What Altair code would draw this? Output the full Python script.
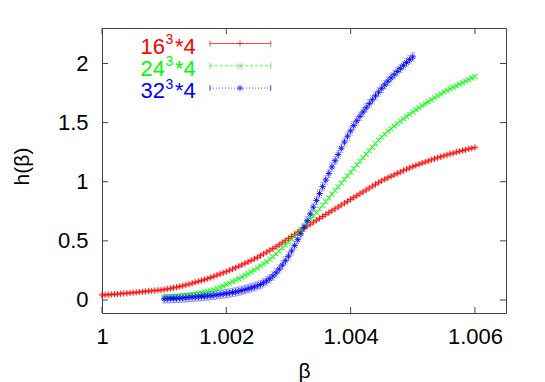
import altair as alt
import pandas as pd

# ---------------- data ----------------
series = ["16", "24", "32"]
series_colors = ["#ff0000", "#00ff00", "#0000ff"]
beta_step = 0.00005

red_beta0 = 1.0000
red_h = [0.042, 0.0435, 0.045, 0.047, 0.049, 0.051, 0.053, 0.055, 0.057, 0.0595,
         0.062, 0.0645, 0.067, 0.0695, 0.072, 0.0745, 0.077, 0.0795, 0.082, 0.085,
         0.088, 0.093, 0.098, 0.103, 0.108, 0.114, 0.120, 0.127, 0.134, 0.142,
         0.150, 0.157, 0.165, 0.172, 0.180, 0.190, 0.200, 0.210, 0.220, 0.230,
         0.240, 0.251, 0.262, 0.273, 0.285, 0.297, 0.310, 0.322, 0.335, 0.347,
         0.360, 0.375, 0.390, 0.405, 0.420, 0.435, 0.450, 0.467, 0.485, 0.502,
         0.520, 0.537, 0.555, 0.572, 0.590, 0.607, 0.625, 0.641, 0.658, 0.674,
         0.690, 0.706, 0.723, 0.739, 0.755, 0.771, 0.787, 0.803, 0.819, 0.834,
         0.850, 0.866, 0.882, 0.898, 0.914, 0.930, 0.946, 0.962, 0.978, 0.993,
         1.008, 1.021, 1.034, 1.046, 1.058, 1.070, 1.082, 1.094, 1.106, 1.117,
         1.128, 1.138, 1.148, 1.157, 1.167, 1.176, 1.185, 1.194, 1.203, 1.211,
         1.219, 1.227, 1.235, 1.242, 1.250, 1.257, 1.264, 1.270, 1.277, 1.283,
         1.290]

green_beta0 = 1.0010
green_h = [0.020, 0.022, 0.024, 0.0265, 0.029, 0.032, 0.035, 0.0385, 0.042, 0.046,
           0.050, 0.055, 0.060, 0.066, 0.072, 0.079, 0.086, 0.096, 0.107, 0.118,
           0.130, 0.142, 0.155, 0.167, 0.180, 0.194, 0.208, 0.223, 0.238, 0.254,
           0.270, 0.287, 0.305, 0.324, 0.344, 0.366, 0.390, 0.415, 0.440, 0.465,
           0.490, 0.515, 0.540, 0.567, 0.595, 0.622, 0.650, 0.680, 0.710, 0.740,
           0.770, 0.801, 0.832, 0.863, 0.895, 0.926, 0.957, 0.988, 1.019, 1.050,
           1.080, 1.111, 1.142, 1.172, 1.203, 1.233, 1.263, 1.292, 1.322, 1.350,
           1.378, 1.402, 1.426, 1.448, 1.470, 1.491, 1.512, 1.532, 1.552, 1.571,
           1.590, 1.608, 1.626, 1.643, 1.660, 1.677, 1.693, 1.710, 1.727, 1.742,
           1.758, 1.772, 1.786, 1.799, 1.812, 1.825, 1.838, 1.851, 1.864, 1.877,
           1.890]

blue_beta0 = 1.0010
blue_h = [0.010, 0.011, 0.012, 0.013, 0.014, 0.0155, 0.017, 0.019, 0.021, 0.023,
          0.025, 0.027, 0.029, 0.0315, 0.034, 0.037, 0.040, 0.0435, 0.047, 0.051,
          0.055, 0.059, 0.064, 0.069, 0.075, 0.081, 0.088, 0.095, 0.103, 0.111,
          0.120, 0.131, 0.145, 0.161, 0.180, 0.203, 0.230, 0.261, 0.295, 0.331,
          0.370, 0.414, 0.460, 0.510, 0.560, 0.615, 0.670, 0.727, 0.785, 0.842,
          0.900, 0.958, 1.015, 1.070, 1.125, 1.178, 1.230, 1.283, 1.335, 1.385,
          1.430, 1.475, 1.515, 1.553, 1.590, 1.625, 1.660, 1.693, 1.726, 1.758,
          1.790, 1.820, 1.850, 1.878, 1.905, 1.932, 1.958, 1.984, 2.008, 2.032,
          2.055]

h_err = {"16": 0.010, "24": 0.015, "32": 0.035}

x_ticks = [1.0, 1.002, 1.004, 1.006]
y_ticks = [0, 0.5, 1, 1.5, 2]
legend_base = ["16", "24", "32"]
legend_sup = ["3", "3", "3"]
legend_rest = ["*4", "*4", "*4"]

# ---------------- table ----------------
rows = []
for name, b0, hs in [("16", red_beta0, red_h), ("24", green_beta0, green_h),
                     ("32", blue_beta0, blue_h)]:
    for i, h in enumerate(hs):
        rows.append({"series": name, "beta": round(b0 + i * beta_step, 7), "h": h,
                     "lo": h - h_err[name], "hi": h + h_err[name]})
df = pd.DataFrame(rows)

W, H = 404, 285
FONT = "Liberation Sans"
TICK = 6

x_scale = alt.Scale(domain=[1.0, 1.0065], nice=False, zero=False)
y_scale = alt.Scale(domain=[-0.11, 2.3], nice=False, zero=False)
color_scale = alt.Scale(domain=series, range=series_colors)
shape_paths = ["M-1,0L1,0M0,-1L0,1",
               "M-0.8,-0.8L0.8,0.8M-0.8,0.8L0.8,-0.8",
               "M-1,0L1,0M0,-1L0,1M-0.7,-0.7L0.7,0.7M-0.7,0.7L0.7,-0.7"]
shape_scale = alt.Scale(domain=series, range=shape_paths)

x_axis = alt.Axis(values=x_ticks, format="~g", ticks=False, tickSize=0, domain=False,
                  grid=False, labelFont=FONT, labelFontSize=22, labelColor="black",
                  labelPadding=13, labelFlush=False, labelOverlap=False,
                  title="β", titleFont=FONT, titleFontSize=21, titleFontWeight="normal",
                  titleColor="black", titleBaseline="alphabetic", titleY=64)
y_axis = alt.Axis(values=y_ticks, format="~g", ticks=False, tickSize=0, domain=False,
                  grid=False, labelFont=FONT, labelFontSize=22, labelColor="black",
                  labelPadding=14, labelFlush=False, labelOverlap=False,
                  title="h(β)", titleFont=FONT, titleFontSize=21, titleFontWeight="normal",
                  titleColor="black", titleAngle=270, titleBaseline="alphabetic",
                  titleAlign="center", titleX=-74, titleY=138)

base = alt.Chart(df)
col_enc = alt.Color("series:N", scale=color_scale, legend=None)
err = base.mark_rule(strokeWidth=1, opacity=0.3).encode(
    x=alt.X("beta:Q", scale=x_scale, axis=x_axis),
    y=alt.Y("lo:Q", scale=y_scale, axis=y_axis),
    y2="hi:Q",
    color=col_enc,
)
cap_lo = base.mark_tick(orient="horizontal", thickness=1, size=5, opacity=0.3).encode(
    x=alt.X("beta:Q", scale=x_scale), y=alt.Y("lo:Q", scale=y_scale), color=col_enc)
cap_hi = base.mark_tick(orient="horizontal", thickness=1, size=5, opacity=0.3).encode(
    x=alt.X("beta:Q", scale=x_scale), y=alt.Y("hi:Q", scale=y_scale), color=col_enc)
pts = base.mark_point(filled=False, strokeWidth=1, size=40, opacity=0.9).encode(
    x=alt.X("beta:Q", scale=x_scale),
    y=alt.Y("h:Q", scale=y_scale),
    color=col_enc,
    shape=alt.Shape("series:N", scale=shape_scale, legend=None),
)

# inward ticks on all four sides
xt = alt.Chart(pd.DataFrame({"t": x_ticks}))
yt = alt.Chart(pd.DataFrame({"t": y_ticks}))
tick_style = dict(color="#444444", strokeWidth=1)
ticks = [
    xt.mark_rule(**tick_style).encode(x=alt.X("t:Q", scale=x_scale), y=alt.value(H), y2=alt.value(H - TICK)),
    xt.mark_rule(**tick_style).encode(x=alt.X("t:Q", scale=x_scale), y=alt.value(0), y2=alt.value(TICK)),
    yt.mark_rule(**tick_style).encode(y=alt.Y("t:Q", scale=y_scale), x=alt.value(0), x2=alt.value(TICK)),
    yt.mark_rule(**tick_style).encode(y=alt.Y("t:Q", scale=y_scale), x=alt.value(W), x2=alt.value(W - TICK)),
]

# gnuplot-style key (top-left)
legend_layers = []
dashes = [[1, 0], [3, 2], [1, 2]]
one = pd.DataFrame({"a": [0]})
for i in range(3):
    yc = 15.5 + 22.3 * i
    col = series_colors[i]
    c = alt.Chart(one)
    legend_layers += [
        c.mark_text(align="right", baseline="alphabetic", font=FONT, fontSize=22, color=col,
                    text=legend_base[i]).encode(x=alt.value(63), y=alt.value(yc + 10)),
        c.mark_text(align="left", baseline="alphabetic", font=FONT, fontSize=14, color=col,
                    text=legend_sup[i]).encode(x=alt.value(63.5), y=alt.value(yc + 0.5)),
        c.mark_text(align="left", baseline="alphabetic", font=FONT, fontSize=22, color=col,
                    text=legend_rest[i]).encode(x=alt.value(73), y=alt.value(yc + 10)),
        c.mark_rule(color=col, strokeWidth=1, opacity=0.7, strokeDash=dashes[i]).encode(
            x=alt.value(108), x2=alt.value(168.7), y=alt.value(yc)),
        c.mark_rule(color=col, strokeWidth=1, opacity=0.7).encode(
            x=alt.value(108), y=alt.value(yc - 3), y2=alt.value(yc + 3)),
        c.mark_rule(color=col, strokeWidth=1, opacity=0.7).encode(
            x=alt.value(168.7), y=alt.value(yc - 3), y2=alt.value(yc + 3)),
        c.mark_point(filled=False, strokeWidth=1, size=40, color=col, shape=shape_paths[i]).encode(
            x=alt.value(138), y=alt.value(yc)),
    ]

chart = alt.layer(err, cap_lo, cap_hi, pts, *ticks, *legend_layers).properties(
    width=W, height=H,
    autosize=alt.AutoSizeParams(type="none"),
    padding={"left": 94, "top": 20, "right": 31, "bottom": 69},
    background="white",
).configure_view(stroke="#444444", strokeWidth=1)

chart.save("out.html", embed_options={"renderer": "svg", "actions": False})
